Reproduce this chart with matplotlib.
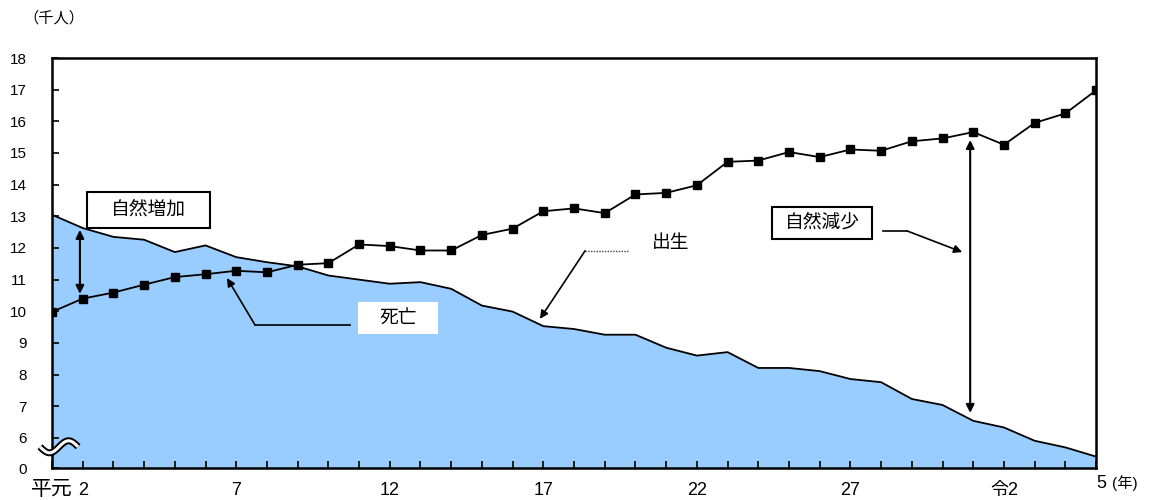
import numpy as np
import matplotlib
matplotlib.use("Agg")
import matplotlib.pyplot as plt
from matplotlib.patches import Rectangle
from matplotlib.transforms import ScaledTranslation

plt.rcParams['font.family'] = ['Liberation Sans', 'Noto Sans CJK JP', 'DejaVu Sans']

# 平成元年(1989) - 令和5年(2023), thousand persons
births = [13.05, 12.63, 12.35, 12.26, 11.87, 12.08, 11.71, 11.55, 11.42, 11.13,
          11.00, 10.87, 10.92, 10.71, 10.18, 9.99, 9.53, 9.44, 9.26, 9.26,
          8.85, 8.60, 8.71, 8.21, 8.21, 8.11, 7.86, 7.76, 7.23, 7.04,
          6.54, 6.33, 5.91, 5.70, 5.41]
deaths = [9.98, 10.40, 10.59, 10.84, 11.08, 11.17, 11.28, 11.23, 11.47, 11.52,
          12.11, 12.06, 11.92, 11.92, 12.41, 12.61, 13.16, 13.25, 13.10, 13.69,
          13.74, 13.98, 14.72, 14.76, 15.03, 14.87, 15.11, 15.07, 15.37, 15.46,
          15.66, 15.26, 15.95, 16.25, 16.98]
xlabels = ['平元', '2', '', '', '', '', '7', '', '', '', '', '12', '', '', '', '',
           '17', '', '', '', '', '22', '', '', '', '', '27', '', '', '', '',
           '令2', '', '', '5']
ylabels = ['0', '6', '7', '8', '9', '10', '11', '12', '13', '14', '15', '16', '17', '18']

# broken axis: 6..18 plotted as 1..13, 0 at bottom
base = 5
x = np.arange(len(births))
b = np.array(births) - base
d = np.array(deaths) - base

fig = plt.figure(figsize=(11.55, 5.0), dpi=100)
ax = fig.add_axes([0.045, 0.064, 0.904, 0.820])

ax.fill_between(x, 0, b, color='#99CCFF', lw=0)
ax.plot(x, b, color='black', lw=1.3)
ax.plot(x, d, color='black', lw=1.3, marker='s', markersize=5.5)

ax.set_xlim(0, len(births) - 1)
ax.set_ylim(0.05, 13)
ax.set_yticks([0.05] + list(range(1, 14)))
ax.set_yticklabels(ylabels, fontsize=11)
ax.set_xticks(x)
ax.set_xticklabels(xlabels, fontsize=13)
ax.tick_params(axis='y', direction='in', length=5, width=1.2, pad=18)
ax.tick_params(axis='x', direction='in', length=5, width=1.2, pad=10)
labs = ax.get_xticklabels()
labs[0].set_fontsize(15)
labs[0].set_transform(labs[0].get_transform() + ScaledTranslation(0, 1.5 / 72, fig.dpi_scale_trans))
labs[-1].set_transform(labs[-1].get_transform() + ScaledTranslation(4 / 72, 5 / 72, fig.dpi_scale_trans))
for s in ax.spines.values():
    s.set_linewidth(1.8)

# axis break mark
t = np.linspace(0, 1, 60)
wx = -0.39 + 1.24 * t
wy = 0.72 - 0.19 * np.sin(2 * np.pi * t)
ax.plot(wx, wy, color='black', lw=5, clip_on=False, solid_capstyle='butt', zorder=5)
ax.plot(wx, wy, color='white', lw=2.2, clip_on=False, solid_capstyle='butt', zorder=6)

fig.text(0.020, 0.964, '（千人）', fontsize=11, va='center')
fig.text(0.963, 0.034, '(年)', fontsize=11, va='center')

arr = dict(arrowstyle='-|>', color='black', lw=1.2, mutation_scale=12, shrinkA=0, shrinkB=0)
dbl = dict(arrowstyle='<|-|>', color='black', lw=1.5, mutation_scale=12, shrinkA=0, shrinkB=0)

# 自然増加
ax.add_patch(Rectangle((1.14, 7.63), 4.01, 1.14, fc='white', ec='black', lw=1.5, zorder=4))
ax.text(3.14, 8.2, '自然増加', fontsize=13.5, ha='center', va='center', zorder=5)
ax.annotate('', xy=(0.91, 5.55), xytext=(0.91, 7.57), arrowprops=dbl)

# 死亡
ax.add_patch(Rectangle((9.97, 4.29), 2.60, 1.01, fc='white', ec='none', zorder=4))
ax.text(11.27, 4.79, '死亡', fontsize=13.5, ha='center', va='center', zorder=5)
ax.plot([9.70, 6.61], [4.57, 4.57], color='black', lw=1.2)
ax.annotate('', xy=(5.70, 6.05), xytext=(6.61, 4.57), arrowprops=arr)

# 出生
ax.text(20.13, 7.13, '出生', fontsize=13.5, ha='center', va='center')
ax.plot([18.76, 17.36], [6.91, 6.91], color='#444444', lw=1.0, ls=(0, (1, 1)))
ax.annotate('', xy=(15.89, 4.76), xytext=(17.36, 6.91), arrowprops=arr)

# 自然減少
ax.add_patch(Rectangle((23.45, 7.28), 3.25, 1.02, fc='white', ec='black', lw=1.5, zorder=4))
ax.text(25.08, 7.79, '自然減少', fontsize=13.5, ha='center', va='center', zorder=5)
ax.plot([27.06, 27.84], [7.54, 7.54], color='black', lw=1.2)
ax.annotate('', xy=(29.64, 6.87), xytext=(27.84, 7.54), arrowprops=arr)
ax.annotate('', xy=(29.90, 1.79), xytext=(29.90, 10.41), arrowprops=dbl)

fig.savefig('out.png', dpi=100)
